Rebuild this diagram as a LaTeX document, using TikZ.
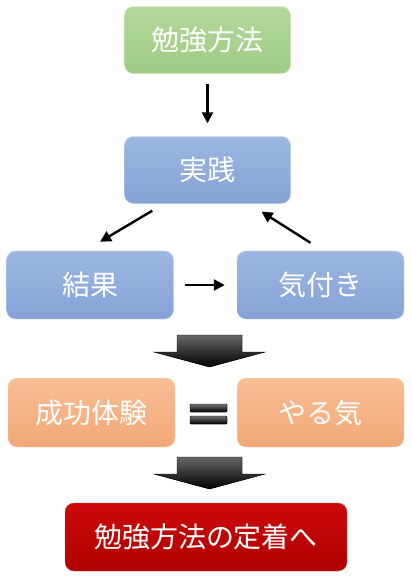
\documentclass[tikz,border=0pt]{standalone}
\usepackage{fontspec}
\newfontfamily\jpfont{Noto Sans CJK JP}
\usetikzlibrary{arrows.meta, positioning, calc}
\definecolor{StepGreenTop}{HTML}{B4D89C}
\definecolor{StepGreenBot}{HTML}{9FCB83}
\definecolor{StepBlueTop}{HTML}{9DB6E2}
\definecolor{StepBlueBot}{HTML}{86A2D6}
\definecolor{StepOrangeTop}{HTML}{F8BE94}
\definecolor{StepOrangeBot}{HTML}{F2A877}
\definecolor{StepRedTop}{HTML}{CC0A0A}
\definecolor{StepRedBot}{HTML}{B00000}

\begin{document}
\begin{tikzpicture}[x=1pt, y=-1pt]

\tikzset{
  stepbox/.style={rounded corners=9pt, minimum width=166pt, minimum height=67pt,
    inner sep=0pt, text=white, font=\jpfont\fontsize{28}{30}\selectfont},
  greenbox/.style={stepbox, top color=StepGreenTop, bottom color=StepGreenBot, draw=StepGreenTop!60!white},
  bluebox/.style={stepbox, top color=StepBlueTop, bottom color=StepBlueBot, draw=StepBlueTop!60!white},
  orangebox/.style={stepbox, top color=StepOrangeTop, bottom color=StepOrangeBot, draw=StepOrangeTop!60!white},
  redbox/.style={stepbox, top color=StepRedTop, bottom color=StepRedBot, draw=StepRedTop!70!white},
  flow/.style={-{Triangle[length=11pt, width=11pt]}, line width=2.4pt, black},
  bigarrow/.style={top color=black!60, bottom color=black, draw=black},
  eqbar/.style={top color=black!55, bottom color=black, draw=black, rounded corners=1pt},
}

  \useasboundingbox (0,0) rectangle (412,579);

  % ── Cycle: method -> practice -> result -> insight ─────────
  \node[greenbox] (hoho) at (207.5,40) {勉強方法};
  \node[bluebox] (jissen) at (207.5,170) {実践};
  \node[bluebox, minimum width=167pt, minimum height=68pt] (kekka) at (90,285) {結果};
  \node[bluebox, minimum width=167pt, minimum height=68pt] (kizuki) at (320.5,285) {気付き};

  \draw[flow, shorten <=10pt, shorten >=13pt] (hoho) -- (jissen);
  \draw[flow] ([xshift=28pt, yshift=-7pt]jissen.south west)
    -- ([xshift=10pt, yshift=9pt]kekka.north);
  \draw[flow, shorten <=11pt, shorten >=12pt] (kekka) -- (kizuki);
  \draw[flow] ([xshift=-10pt, yshift=8pt]kizuki.north)
    -- ([xshift=54pt, yshift=-8pt]jissen.south);

  % ── Block arrows ──────────────────────────────────────────
  \foreach \ay in {335, 457}{
    \fill[bigarrow] (177,\ay) -- (242,\ay) -- (242,\ay+17) -- (265,\ay+17)
      -- (209.5,\ay+32) -- (154,\ay+17) -- (177,\ay+17) -- cycle;
  }

  % ── Success = motivation ──────────────────────────────────
  \node[orangebox, minimum width=167pt, minimum height=69pt] (seiko) at (91.5,412.5) {成功体験};
  \node[orangebox, minimum width=167pt, minimum height=69pt] (yaruki) at (320.5,412.5) {やる気};

  \fill[eqbar] (190,404) rectangle (227,412);
  \fill[eqbar] (190,416) rectangle (227,424);

  % ── Goal ──────────────────────────────────────────────────
  \node[redbox, minimum width=282pt, minimum height=68pt] (teichaku) at (206,537) {勉強方法の定着へ};

\end{tikzpicture}
\end{document}
